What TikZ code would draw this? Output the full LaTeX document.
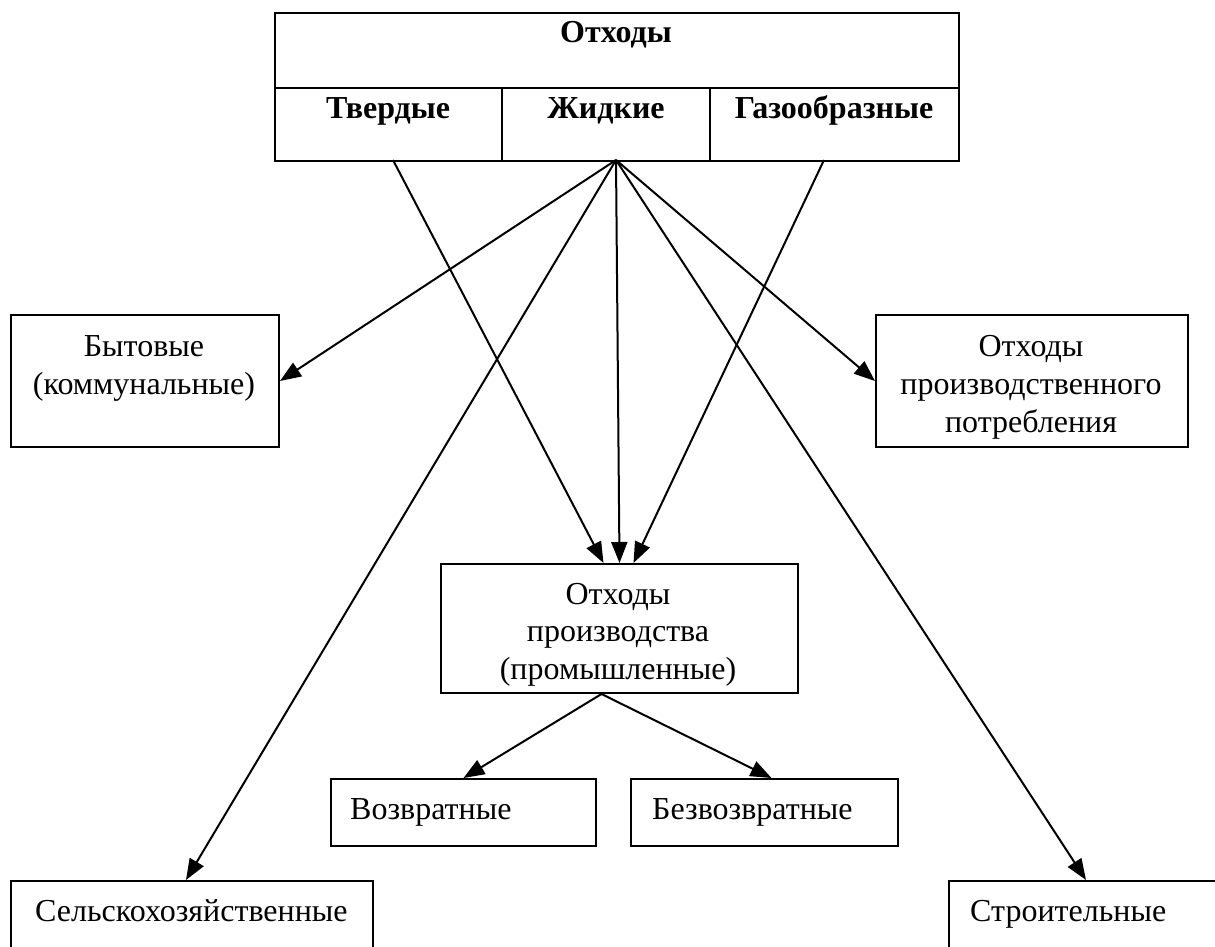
\documentclass[tikz,border=0pt]{standalone}
\usepackage{fontspec}
\setmainfont{Liberation Serif}
\usetikzlibrary{arrows.meta,calc}
\begin{document}
\begin{tikzpicture}[x=1pt,y=-1pt,
  box/.style={draw,line width=2pt,rectangle,inner sep=0pt,anchor=north west},
  txt/.style={font=\fontsize{32}{38}\selectfont,anchor=base,inner sep=0pt},
  btxt/.style={font=\fontsize{32}{38}\selectfont\bfseries,anchor=base,inner sep=0pt},
  arr/.style={line width=2pt,-{Triangle[length=21pt,width=16pt]}},
  ln/.style={line width=2pt}]
\useasboundingbox (0,0) rectangle (1215,946);
\fill[white] (0,0) rectangle (1215,946);
% top box
\node[box,minimum width=684pt,minimum height=148pt] (top) at (274,12) {};
\draw[ln] (274,88) -- (958,88);
\draw[ln] (502,88) -- (502,160);
\draw[ln] (710,88) -- (710,160);
\node[btxt] (t0) at (616,42) {Отходы};
\node[btxt] (t1) at (388,118) {Твердые};
\node[btxt] (t2) at (606,118) {Жидкие};
\node[btxt] (t3) at (834,118) {Газообразные};
% boxes
\node[box,minimum width=268pt,minimum height=132pt] (byt) at (10,314) {};
\node[txt] at (144,356) {Бытовые};
\node[txt] at (144,394) {(коммунальные)};
\node[box,minimum width=312pt,minimum height=132pt] (pot) at (875,314) {};
\node[txt] at (1031,356) {Отходы};
\node[txt] at (1031,394) {производственного};
\node[txt] at (1031,432) {потребления};
\node[box,minimum width=357pt,minimum height=129pt] (mid) at (440,563) {};
\node[txt] at (618,604) {Отходы};
\node[txt] at (618,641) {производства};
\node[txt] at (618,679) {(промышленные)};
\node[box,minimum width=265pt,minimum height=67pt] (voz) at (330,778) {};
\node[txt,anchor=base west] at (350,819) {Возвратные};
\node[box,minimum width=267pt,minimum height=67pt] (bez) at (630,778) {};
\node[txt,anchor=base west] at (652,819) {Безвозвратные};
\node[box,minimum width=362pt,minimum height=90pt] (sel) at (10,880) {};
\node[txt,anchor=base west] at (35,921) {Сельскохозяйственные};
\node[box,minimum width=274pt,minimum height=90pt] (str) at (948,880) {};
\node[txt,anchor=base west] at (970,921) {Строительные};
% connectors
\coordinate (hub) at (616,160);
\coordinate (tvs) at (393,160);
\coordinate (gas) at (824,160);
\draw[arr] (hub) -- (byt.east);
\draw[arr] (hub) -- (pot.west);
\draw[arr] (hub) -- (mid.north);
\draw[arr] (tvs) -- ($(mid.north)+(-16,0)$);
\draw[arr] (gas) -- ($(mid.north)+(14,0)$);
\draw[arr] (hub) -- ($(sel.north)+(-6,0)$);
\draw[arr] (hub) -- (str.north);
\draw[arr] ($(mid.south)+(-18,0)$) -- (voz.north);
\draw[arr] ($(mid.south)+(-18,0)$) -- ($(bez.north)+(7,0)$);
\end{tikzpicture}
\end{document}
